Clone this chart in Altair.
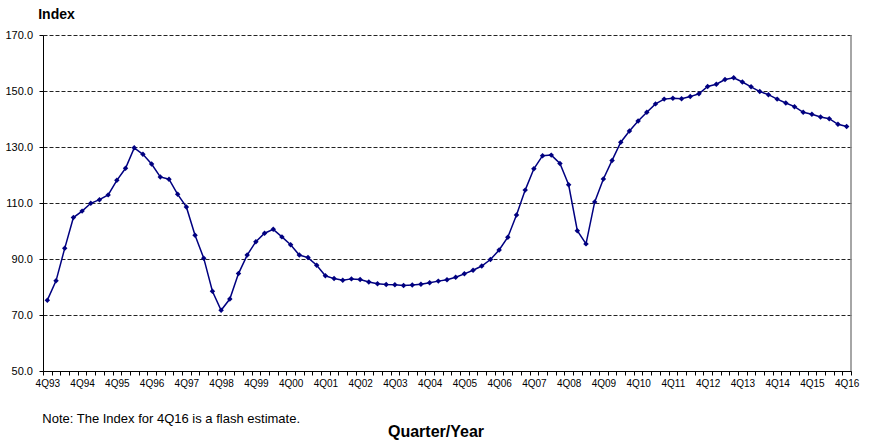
import altair as alt
import pandas as pd

# Quarter labels, 4Q93 .. 4Q16
quarters = []
for i in range(93):
    qn = (3 + i) % 4 + 1
    yr = (1993 + (i + 3) // 4) % 100
    quarters.append(f"{qn}Q{yr:02d}")

index_values = [
    75.3, 82.2, 93.8, 104.8, 107.1, 109.9, 111.2, 112.9, 118.1, 122.4, 129.7, 127.4,
    123.9, 119.3, 118.5, 113.1, 108.6, 98.5, 90.3, 78.5, 71.7, 75.7, 84.8,
    91.4, 96.2, 99.2, 100.6, 97.9, 95.1, 91.4, 90.5, 87.8, 84.0, 83.0, 82.4,
    82.9, 82.7, 81.8, 81.2, 80.9, 80.8, 80.5, 80.7, 81.0, 81.5, 82.1,
    82.6, 83.5, 84.7, 86.0, 87.5, 89.8, 93.2, 97.8, 105.7, 114.6, 122.2, 126.9,
    127.1, 124.1, 116.5, 100.1, 95.4, 110.4, 118.6, 125.2, 131.7, 135.7, 139.3,
    142.4, 145.4, 147.1, 147.4, 147.2, 148.0, 149.0, 151.6, 152.4, 154.1, 154.7,
    153.2, 151.5, 149.8, 148.7, 147.1, 145.7, 144.4, 142.4, 141.7, 140.7, 140.1,
    138.1, 137.3,
]

y_ticks = [50, 70, 90, 110, 130, 150, 170]
note_text = ["Note: The Index for 4Q16 is a flash estimate."]

df = pd.DataFrame({"i": list(range(len(index_values))), "quarter": quarters, "value": index_values})

# label positions (4th quarters) and tick positions (category boundaries)
label_positions = [k for k, q in enumerate(quarters) if q.startswith("4Q")]
boundary_positions = [k - 0.5 for k in range(len(quarters) + 1)]

FONT = "Liberation Sans"
W, H = 808, 336

label_expr = (
    "(datum.value % 4 == 0) ? ('4Q' + (((93 + datum.value / 4) % 100) < 10 ? '0' : '') "
    "+ ((93 + datum.value / 4) % 100)) : ''"
)

x_enc = alt.X(
    "i:Q",
    scale=alt.Scale(domain=[-0.5, len(quarters) - 0.5], nice=False, zero=False),
    axis=alt.Axis(
        values=boundary_positions + label_positions,
        tickCount=1000,
        labelExpr=label_expr,
        labelOverlap=False,
        labelFlush=False,
        labelBound=False,
        labelFont=FONT,
        labelFontSize=10,
        labelColor="black",
        labelPadding=3,
        tickSize=4,
        tickColor="black",
        tickOpacity={"condition": {"test": "datum.value % 1 == 0", "value": 0}, "value": 1},
        domainColor="black",
        domainWidth=1,
        grid=False,
        title="Quarter/Year",
        titleFont=FONT,
        titleFontSize=16,
        titleFontWeight="bold",
        titleColor="black",
        titleX=392.5,
        titleY=65,
        titleAlign="center",
        titleBaseline="alphabetic",
    ),
)

y_enc = alt.Y(
    "value:Q",
    scale=alt.Scale(domain=[50, 170], nice=False, zero=False),
    axis=alt.Axis(
        values=y_ticks,
        tickCount=20,
        format=".1f",
        labelFont=FONT,
        labelFontSize=11,
        labelColor="black",
        labelPadding=6.5,
        tickSize=4,
        tickColor="black",
        domainColor="black",
        domainWidth=1,
        grid=True,
        gridColor="#222222",
        gridDash=[4, 2],
        gridWidth=1,
        title="Index",
        titleFont=FONT,
        titleFontSize=14,
        titleFontWeight="bold",
        titleColor="black",
        titleAngle=0,
        titleAlign="left",
        titleBaseline="alphabetic",
        titleX=-5.3,
        titleY=-16.7,
    ),
)

base = alt.Chart(df)
line = base.mark_line(color="#000080", strokeWidth=1.5).encode(x=x_enc, y=y_enc)
pts = base.mark_point(shape="diamond", filled=True, size=30, color="#000080", opacity=1).encode(
    x="i:Q", y="value:Q"
)

frame = alt.Chart(pd.DataFrame({"k": [0]})).mark_rule(color="#888888", strokeWidth=1.5).encode(
    x=alt.value(W), y=alt.value(0), y2=alt.value(H)
)

note = alt.Chart(pd.DataFrame({"t": note_text})).mark_text(
    align="left", baseline="alphabetic", font=FONT, fontSize=13, color="black"
).encode(x=alt.value(-0.7), y=alt.value(388.3), text="t:N")

chart = (
    alt.layer(line, pts, frame, note)
    .properties(
        width=W,
        height=H,
        autosize=alt.AutoSizeParams(type="none"),
        padding={"left": 43, "top": 35, "right": 21, "bottom": 74},
        background="white",
    )
    .configure_view(stroke=None)
)

chart.save("out.html", embed_options={"renderer": "svg", "actions": False})
